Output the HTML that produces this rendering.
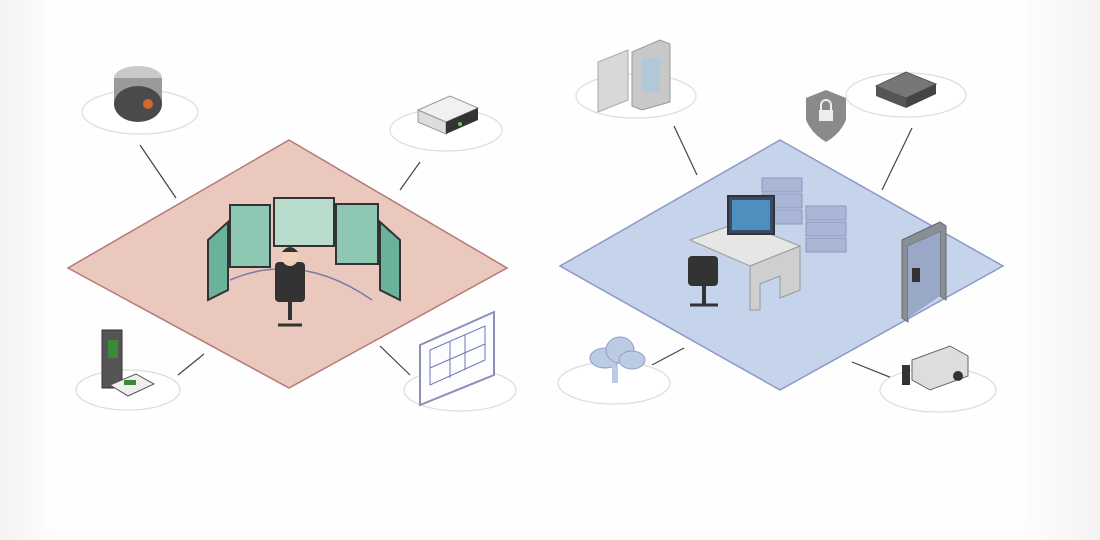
<!DOCTYPE html>
<html><head><meta charset="utf-8"><style>
html,body{margin:0;padding:0;background:#fff;}
svg{display:block}
</style></head><body>
<svg width="1100" height="540" viewBox="0 0 1100 540" xmlns="http://www.w3.org/2000/svg">
<defs>
<linearGradient id="lg" x1="0" x2="1"><stop offset="0" stop-color="#f3f3f3"/><stop offset="0.05" stop-color="#fdfdfd"/><stop offset="0.93" stop-color="#fdfdfd"/><stop offset="1" stop-color="#f3f3f3"/></linearGradient>
</defs>
<rect width="1100" height="540" fill="url(#lg)"/>
<rect x="45" y="0" width="982" height="525" fill="#fefefe"/>
<!-- diamonds -->
<polygon points="289,140 507,268 289,388 68,268" fill="#eac8bd" stroke="#b47a78" stroke-width="1.5"/>
<polygon points="780,140 1003,266 780,390 560,266" fill="#c6d4eb" stroke="#8e98c6" stroke-width="1.5"/>
<!-- connectors -->
<g stroke="#444" stroke-width="1.2">
<line x1="140" y1="145" x2="176" y2="198"/><line x1="420" y1="162" x2="400" y2="190"/>
<line x1="178" y1="375" x2="204" y2="354"/><line x1="380" y1="346" x2="410" y2="375"/>
<line x1="674" y1="126" x2="697" y2="175"/><line x1="912" y1="128" x2="882" y2="190"/>
<line x1="652" y1="365" x2="684" y2="348"/><line x1="852" y1="362" x2="892" y2="378"/>
</g>
<!-- platforms -->
<g fill="#fff" stroke="#dcdcdc" stroke-width="1.2">
<ellipse cx="140" cy="112" rx="58" ry="22"/><ellipse cx="446" cy="130" rx="56" ry="21"/>
<ellipse cx="128" cy="390" rx="52" ry="20"/><ellipse cx="460" cy="390" rx="56" ry="21"/>
<ellipse cx="636" cy="96" rx="60" ry="22"/><ellipse cx="906" cy="95" rx="60" ry="22"/>
<ellipse cx="614" cy="383" rx="56" ry="21"/><ellipse cx="938" cy="390" rx="58" ry="22"/>
</g>
<!-- left top camera dome -->
<ellipse cx="138" cy="78" rx="24" ry="12" fill="#c9c9c9"/>
<rect x="114" y="78" width="48" height="26" fill="#9a9a9a"/>
<ellipse cx="138" cy="104" rx="24" ry="18" fill="#4a4a4a"/>
<circle cx="148" cy="104" r="5" fill="#d06a30"/>
<!-- router left -->
<polygon points="418,110 450,96 478,108 446,122" fill="#f1f1f1" stroke="#999"/>
<polygon points="418,110 446,122 446,134 418,122" fill="#ddd" stroke="#999"/>
<polygon points="446,122 478,108 478,120 446,134" fill="#333"/>
<circle cx="460" cy="124" r="2" fill="#6c6"/>
<!-- monitors -->
<g>
<polygon points="208,240 228,222 228,290 208,300" fill="#6ab39a" stroke="#333" stroke-width="2"/>
<rect x="230" y="205" width="40" height="62" fill="#8fc8b2" stroke="#333" stroke-width="2"/>
<rect x="274" y="198" width="60" height="48" fill="#b9dccc" stroke="#333" stroke-width="2"/>
<rect x="336" y="204" width="42" height="60" fill="#8fc8b2" stroke="#333" stroke-width="2"/>
<polygon points="380,222 400,240 400,300 380,290" fill="#6ab39a" stroke="#333" stroke-width="2"/>
<path d="M230 280 Q300 250 372 300" fill="none" stroke="#7a7aa8" stroke-width="1.5"/>
<rect x="275" y="262" width="30" height="40" fill="#333" rx="4"/>
<circle cx="290" cy="258" r="8" fill="#f0d0b8"/>
<path d="M282 252 q8 -10 16 0" fill="#333"/>
<rect x="288" y="300" width="4" height="20" fill="#333"/>
<line x1="278" y1="325" x2="302" y2="325" stroke="#333" stroke-width="3"/>
</g>
<!-- reader left bottom -->
<rect x="102" y="330" width="20" height="58" fill="#555" stroke="#333"/>
<rect x="108" y="340" width="10" height="18" fill="#3a8a3a"/>
<polygon points="110,385 136,374 154,384 128,396" fill="#eee" stroke="#555"/>
<rect x="124" y="380" width="12" height="5" fill="#3a8a3a"/>
<!-- floor plan -->
<polygon points="420,345 494,312 494,375 420,405" fill="#fdfdff" stroke="#8a8fb8" stroke-width="2"/>
<g stroke="#6a7ab8" stroke-width="1" fill="none"><path d="M430 350 L485 326 L485 360 L430 385 Z M450 342 L450 378 M465 335 L465 370 M430 368 L485 344"/></g>
<!-- right: doors -->
<polygon points="598,62 628,50 628,100 598,112" fill="#d8d8d8" stroke="#aaa"/>
<polygon points="632,52 660,40 670,44 670,102 642,110 632,106" fill="#c8c8c8" stroke="#999"/>
<rect x="642" y="58" width="18" height="34" fill="#b0c8d8"/>
<!-- shield -->
<path d="M826 90 L846 98 L846 120 Q840 134 826 142 Q812 134 806 120 L806 98 Z" fill="#8a8a8a"/>
<rect x="819" y="110" width="14" height="11" fill="#eee"/><path d="M821 110 v-5 a5 5 0 0 1 10 0 v5" fill="none" stroke="#eee" stroke-width="2"/>
<!-- box right -->
<polygon points="876,86 906,72 936,84 906,98" fill="#777" stroke="#555"/>
<polygon points="876,86 906,98 906,108 876,96" fill="#555"/><polygon points="906,98 936,84 936,94 906,108" fill="#444"/>
<!-- servers -->
<g fill="#a9b6d6" stroke="#8a98bf">
<rect x="762" y="178" width="40" height="14"/><rect x="762" y="194" width="40" height="14"/><rect x="762" y="210" width="40" height="14"/>
<rect x="806" y="206" width="40" height="14"/><rect x="806" y="222" width="40" height="14"/><rect x="806" y="238" width="40" height="14"/>
</g>
<!-- desk -->
<polygon points="690,240 740,222 800,246 750,266" fill="#e6e6e6" stroke="#999"/>
<polygon points="750,266 800,246 800,290 780,298 780,276 760,284 760,310 750,310" fill="#cfcfcf" stroke="#999"/>
<rect x="728" y="196" width="46" height="38" fill="#3a4a6a" stroke="#333" stroke-width="2"/>
<rect x="732" y="200" width="38" height="30" fill="#4d8fbf"/>
<rect x="688" y="256" width="30" height="30" fill="#333" rx="4"/>
<line x1="690" y1="305" x2="718" y2="305" stroke="#333" stroke-width="3"/><rect x="702" y="286" width="4" height="20" fill="#333"/>
<!-- door frame -->
<polygon points="902,240 940,222 946,226 946,300 940,296 940,232 908,246 908,322 902,318" fill="#8a8e96" stroke="#666"/>
<polygon points="908,246 940,232 940,296 908,318" fill="#9aa8c8"/>
<rect x="912" y="268" width="8" height="14" fill="#333"/>
<!-- cloud -->
<g fill="#bccbe4" stroke="#8e9ec4"><ellipse cx="605" cy="358" rx="15" ry="10"/><ellipse cx="620" cy="350" rx="14" ry="13"/><ellipse cx="632" cy="360" rx="13" ry="9"/></g>
<rect x="612" y="365" width="6" height="18" fill="#bccbe4"/>
<!-- camera right -->
<rect x="902" y="365" width="8" height="20" fill="#333"/>
<polygon points="912,360 950,346 968,356 968,376 930,390 912,380" fill="#ddd" stroke="#666"/>
<circle cx="958" cy="376" r="5" fill="#333"/>
</svg>
</body></html>
